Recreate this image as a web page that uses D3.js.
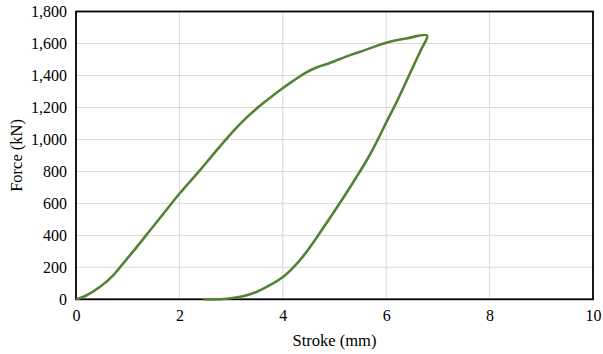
<!DOCTYPE html>
<html>
<head>
<meta charset="utf-8">
<script src="https://cdn.jsdelivr.net/npm/d3@7"></script>
<style>
  body { margin: 0; background: #fff; }
  text { font-family: "Liberation Serif", "Times New Roman", serif; fill: #000; }
</style>
</head>
<body>
<svg class="chart" width="603" height="354"></svg>
<script>
// loading branch (stroke mm, force kN)
const loadStroke = [0, 0.17, 0.46, 0.72, 0.85, 1.17, 1.43, 1.69, 2.0, 2.40, 2.65, 2.94, 3.20, 3.49, 3.75, 3.99, 4.20, 4.43, 4.65, 4.91, 5.30, 5.60, 6.00, 6.39, 6.79]
const loadForce  = [0, 19, 77, 150, 200, 325, 430, 535, 660, 808, 905, 1015, 1105, 1192, 1259, 1318, 1366, 1415, 1450, 1478, 1527, 1560, 1605, 1631, 1650]
// unloading branch
const unloadStroke = [6.79, 6.68, 6.58, 6.37, 6.18, 6.00, 5.84, 5.66, 5.42, 5.17, 4.91, 4.68, 4.43, 4.20, 3.99, 3.75, 3.49, 3.23, 2.85, 2.46]
const unloadForce  = [1650, 1565, 1497, 1350, 1220, 1105, 1000, 890, 762, 635, 508, 398, 284, 198, 136, 88, 46, 19, 2, 0]

const xTicks = [0, 2, 4, 6, 8, 10]
const yTicks = [0, 200, 400, 600, 800, 1000, 1200, 1400, 1600, 1800]

const svg = d3.select('.chart')
const width = +svg.attr('width')
const height = +svg.attr('height')
const margin = {top: 11.5, right: 10, bottom: 54.7, left: 76}

const x = d3.scaleLinear().domain([0, 10]).range([margin.left, width - margin.right])
const y = d3.scaleLinear().domain([0, 1800]).range([height - margin.bottom, margin.top])

const fmt = d3.format(',')
const serif = '"Liberation Serif", "Times New Roman", serif'

// gridlines
svg.append('g')
  .selectAll('line.gy')
  .data(yTicks)
  .enter().append('line')
    .attr('x1', x(0)).attr('x2', x(10))
    .attr('y1', d => y(d)).attr('y2', d => y(d))
    .attr('stroke', '#d9d9d9').attr('stroke-width', 1)

svg.append('g')
  .selectAll('line.gx')
  .data(xTicks)
  .enter().append('line')
    .attr('x1', d => x(d)).attr('x2', d => x(d))
    .attr('y1', y(0)).attr('y2', y(1800))
    .attr('stroke', '#d9d9d9').attr('stroke-width', 1)

// axes (labels only, frame drawn below)
const xAxis = svg.append('g')
  .attr('transform', `translate(0,${y(0)})`)
  .call(d3.axisBottom(x).tickValues(xTicks).tickSize(0).tickPadding(10).tickFormat(d3.format('d')))
xAxis.attr('font-family', serif)
xAxis.select('.domain').remove()
xAxis.selectAll('text').style('font-family', serif).attr('font-size', 16).attr('fill', '#000')

const yAxis = svg.append('g')
  .attr('transform', `translate(${x(0)},0)`)
  .call(d3.axisLeft(y).tickValues(yTicks).tickSize(0).tickPadding(9).tickFormat(fmt))
yAxis.attr('font-family', serif)
yAxis.select('.domain').remove()
yAxis.selectAll('text').style('font-family', serif).attr('font-size', 16).attr('fill', '#000')

// data line
const line = d3.line()
  .x(d => x(d[0]))
  .y(d => y(d[1]))
  .curve(d3.curveCatmullRom.alpha(0.5))

const loadPts = loadStroke.map((s, i) => [s, loadForce[i]])
const unloadPts = unloadStroke.map((s, i) => [s, unloadForce[i]])

// plot frame
svg.append('rect')
  .attr('x', x(0)).attr('y', y(1800))
  .attr('width', x(10) - x(0)).attr('height', y(0) - y(1800))
  .attr('fill', 'none').attr('stroke', '#000').attr('stroke-width', 1.8)

svg.append('path')
  .attr('d', line(loadPts.concat(unloadPts.slice(1))))
  .attr('fill', 'none')
  .attr('stroke', '#548235')
  .attr('stroke-width', 2.6)
  .attr('stroke-linejoin', 'round')

// axis titles
svg.append('text')
  .attr('x', (x(0) + x(10)) / 2)
  .attr('y', 346)
  .attr('text-anchor', 'middle')
  .attr('font-size', 16.5)
  .text('Stroke (mm)')

svg.append('text')
  .attr('transform', `translate(22,${(y(0) + y(1800)) / 2}) rotate(-90)`)
  .attr('text-anchor', 'middle')
  .attr('font-size', 16.5)
  .text('Force (kN)')
</script>
</body>
</html>
